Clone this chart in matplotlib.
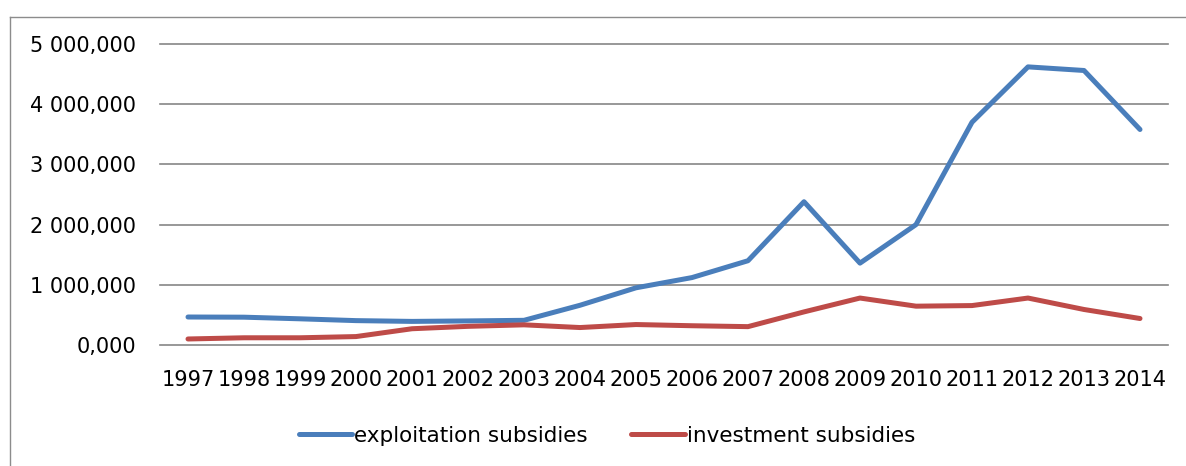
import matplotlib
matplotlib.use("Agg")
import matplotlib.pyplot as plt
from matplotlib.ticker import FuncFormatter, FixedLocator
from matplotlib.lines import Line2D

years = ["1997", "1998", "1999", "2000", "2001", "2002", "2003", "2004", "2005",
         "2006", "2007", "2008", "2009", "2010", "2011", "2012", "2013", "2014"]
exploitation = [465, 462, 435, 405, 392, 400, 410, 660, 950,
                1120, 1400, 2380, 1360, 2000, 3700, 4620, 4560, 3580]
investment = [100, 120, 120, 140, 270, 310, 335, 290, 340,
              320, 305, 550, 780, 645, 655, 780, 590, 440]
series_names = ["exploitation subsidies", "investment subsidies"]
y_ticks = [0, 1000, 2000, 3000, 4000, 5000]

plt.rcParams['font.family'] = ['DejaVu Sans']

fig = plt.figure(figsize=(11.86, 4.66), dpi=100)
ax = fig.add_axes([160/1186, 1-345/466, (1168-160)/1186, (345-44)/466])

x = list(range(len(years)))
l1, = ax.plot(x, exploitation, color="#4A7EBB", lw=3.6, solid_capstyle="round", solid_joinstyle="round")
l2, = ax.plot(x, investment, color="#BE4B48", lw=3.6, solid_capstyle="round", solid_joinstyle="round")

ax.set_xlim(-0.5, len(years) - 0.5)
ax.set_ylim(0, 5000)
ax.set_xticks(x)
ax.set_xticklabels(years)
ax.yaxis.set_major_locator(FixedLocator(y_ticks))

def fmt(v, pos):
    s = f"{v:,.3f}"
    return s.replace(",", " ").replace(".", ",")
ax.yaxis.set_major_formatter(FuncFormatter(fmt))

for s in ax.spines.values():
    s.set_visible(False)
ax.grid(axis="y", color="#868686", lw=1.2)
ax.set_axisbelow(True)
for gl in ax.get_ygridlines():
    gl.set_clip_on(False)
ax.tick_params(axis="both", length=0, labelsize=15, colors="black")
ax.tick_params(axis="y", pad=17)
ax.tick_params(axis="x", pad=18)

fig.legend([l1, l2], series_names, loc="center", bbox_to_anchor=(607/1186, 1-436/466),
           ncol=2, frameon=False, fontsize=15.5, handlelength=2.5, handletextpad=0.1,
           columnspacing=2.0)

fig.add_artist(Line2D([10/1186, 1], [1-17/466, 1-17/466], color="#8c8c8c", lw=1.0, transform=fig.transFigure))
fig.add_artist(Line2D([10/1186, 10/1186], [0, 1-17/466], color="#8c8c8c", lw=1.0, transform=fig.transFigure))

fig.savefig("out.png", dpi=100)
